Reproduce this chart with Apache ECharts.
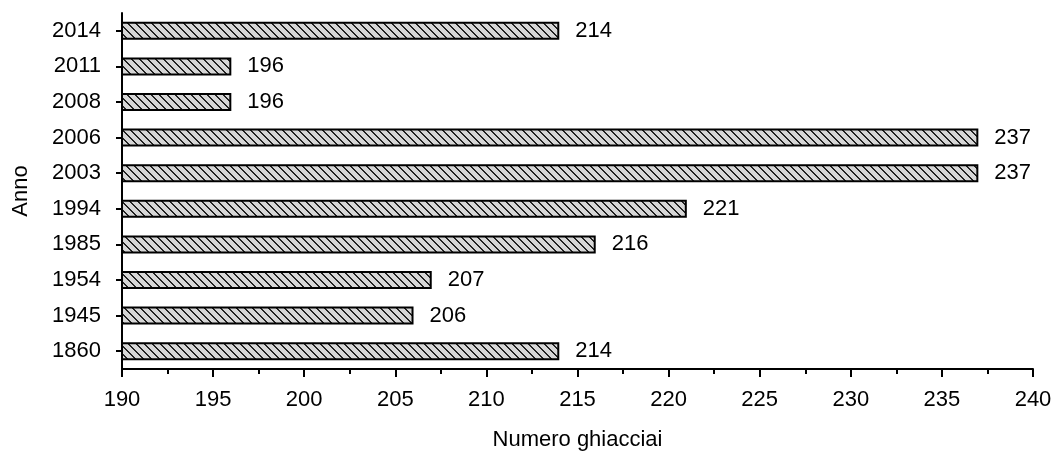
<!DOCTYPE html>
<html>
<head>
<meta charset="utf-8">
<script src="https://cdn.jsdelivr.net/npm/echarts@6/dist/echarts.min.js"></script>
<style>
html,body{margin:0;padding:0;background:#fff;}
#chart{width:1057px;height:456px;}
</style>
</head>
<body>
<div id="chart"></div>
<script>
// Data (bottom to top, as drawn by a category y-axis)
const years = ['1860','1945','1954','1985','1994','2003','2006','2008','2011','2014'];
const glaciers = [214, 206, 207, 216, 221, 237, 237, 196, 196, 214];
const xMin = 190, xMax = 240, xStep = 5;

function makePattern(){
  const c = document.createElement('canvas');
  c.width = 8; c.height = 8;
  const g = c.getContext('2d');
  g.fillStyle = '#d6d6d6';
  g.fillRect(0,0,8,8);
  g.fillStyle = '#222';
  for (let i = 0; i < 8; i++) {
    // downward diagonal "\" stripe, ~2px wide
    g.fillRect(i, i, 1, 1);
    g.fillRect((i+1)%8, i, 1, 1);
  }
  return c;
}

const chart = echarts.init(document.getElementById('chart'), null, {renderer:'canvas'});
const font = 'Liberation Sans, Arial, sans-serif';
const fs = 22;
chart.setOption({
  animation:false,
  grid:{left:122, right:24, top:13, bottom:82, containLabel:false},
  xAxis:{
    type:'value', min:xMin, max:xMax, interval:xStep,
    name:'Numero ghiacciai', nameLocation:'middle', nameGap:60,
    nameTextStyle:{color:'#000', fontSize:fs, fontFamily:font},
    axisLine:{show:true, lineStyle:{color:'#000', width:2}},
    axisTick:{show:true, length:8, lineStyle:{color:'#000', width:2}},
    minorTick:{show:true, splitNumber:2, length:5, lineStyle:{color:'#000', width:2}},
    splitLine:{show:false},
    axisLabel:{color:'#000', fontSize:fs, fontFamily:font, margin:20}
  },
  yAxis:{
    type:'category', data:years,
    name:'Anno', nameLocation:'middle', nameGap:90, nameRotate:90,
    nameTextStyle:{color:'#000', fontSize:fs, fontFamily:font},
    axisLine:{show:true, lineStyle:{color:'#000', width:2}},
    axisTick:{show:true, alignWithLabel:true, length:6, lineStyle:{color:'#000', width:2}},
    axisLabel:{color:'#000', fontSize:fs, fontFamily:font, margin:21},
    splitLine:{show:false}
  },
  series:[{
    type:'bar', data:glaciers, barWidth:18,
    itemStyle:{
      color:{image:makePattern(), repeat:'repeat'},
      borderColor:'#000', borderWidth:2
    },
    label:{show:true, position:'right', distance:16, color:'#000', fontSize:fs, fontFamily:font}
  }]
});
</script>
</body>
</html>
